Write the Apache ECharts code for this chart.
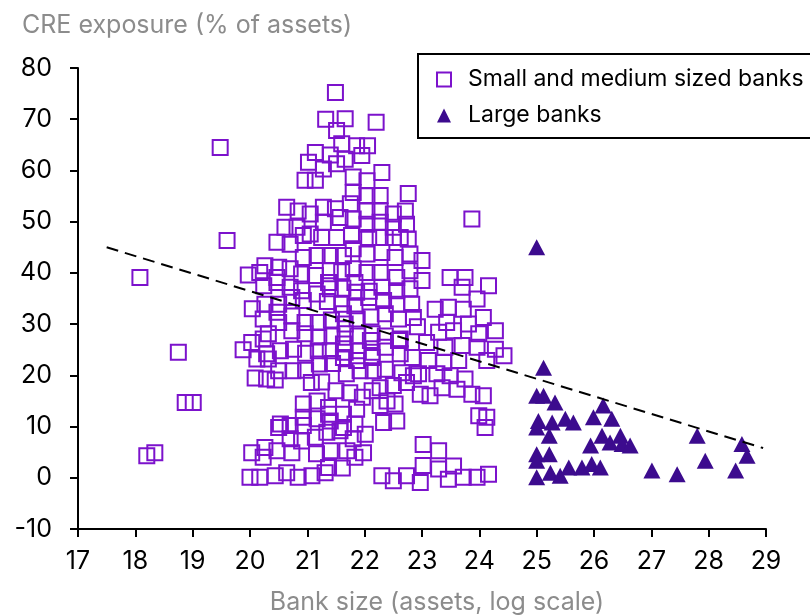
<!DOCTYPE html>
<html>
<head>
<meta charset="utf-8">
<script src="https://cdn.jsdelivr.net/npm/echarts@6/dist/echarts.min.js"></script>
<style>
  html, body { margin: 0; padding: 0; background: #fff; }
  #chart { width: 810px; height: 616px; }
</style>
</head>
<body>
<div id="chart"></div>
<script>
// [bank size (log assets), CRE exposure %]
const smallOutliers = [
  [18.08, 39.1], [18.2, 4.3], [18.34, 4.9], [18.75, 24.5], [18.87, 14.7], [19.01, 14.7],
  [19.48, 64.5], [19.6, 46.3], [23.87, 50.5]
];
const smallHigh = [
  [21.49, 75.2], [21.32, 70.0], [21.66, 70.1], [22.2, 69.4], [21.51, 67.8], [21.6, 65.2],
  [21.86, 64.8], [22.05, 64.8], [21.95, 62.9], [21.14, 63.5], [21.4, 63.0], [21.66, 62.2],
  [21.02, 61.6], [21.28, 60.3], [21.51, 61.3], [20.96, 58.1], [21.14, 58.1], [21.8, 58.7],
  [22.04, 58.0], [22.3, 59.6], [21.8, 55.7], [22.04, 55.1], [22.27, 55.1], [22.76, 55.5],
  [20.64, 52.8], [20.84, 52.1], [21.05, 51.5], [21.28, 52.8], [21.49, 52.5], [21.75, 53.5],
  [22.04, 52.1], [22.27, 52.1], [22.5, 51.5], [22.71, 52.1],
  [20.61, 48.9], [20.82, 48.9], [21.05, 47.6], [21.28, 49.9], [21.57, 50.8], [21.8, 50.5],
  [22.04, 49.5], [22.27, 49.9], [22.5, 48.9], [22.73, 49.5],
  [20.47, 46.0], [20.7, 45.6], [20.93, 47.3], [21.25, 46.9], [21.51, 46.9], [21.77, 47.3],
  [22.07, 46.9], [22.27, 46.9], [22.5, 46.9], [22.62, 46.9], [22.76, 46.6],
  [20.26, 41.4], [20.5, 41.1], [20.7, 40.8], [20.93, 43.0], [21.17, 43.4], [21.4, 43.4],
  [21.63, 43.4], [21.8, 44.7], [22.04, 43.7], [22.3, 44.0], [22.53, 43.0], [22.79, 43.7],
  [23.0, 42.4]
];
const smallMid = [
  [19.97, 39.6], [20.17, 40.1], [20.47, 39.1], [20.9, 39.8], [21.14, 39.5], [21.4, 40.4],
  [21.6, 40.2], [21.8, 40.8], [22.04, 40.1], [22.27, 40.1], [22.56, 39.1], [22.79, 40.4],
  [23.0, 38.5], [23.49, 39.1], [23.75, 39.1], [24.16, 37.5], [23.7, 37.2],
  [20.24, 37.5], [20.47, 38.1], [20.7, 37.2], [20.9, 36.5], [21.17, 35.9], [21.37, 38.1],
  [21.4, 36.9], [21.62, 37.0], [21.86, 36.2], [21.83, 38.1], [22.08, 36.4], [22.3, 37.2],
  [22.56, 36.5], [22.79, 36.9], [23.96, 34.9],
  [20.04, 33.0], [20.26, 33.9], [20.5, 33.9], [20.73, 35.2], [20.93, 34.6], [21.35, 34.4],
  [21.6, 33.9], [21.83, 33.6], [22.07, 35.2], [22.33, 34.6], [22.56, 33.9], [22.82, 33.9],
  [23.23, 32.9], [23.46, 33.3], [23.72, 32.9],
  [20.23, 31.0], [20.5, 30.3], [20.47, 32.3], [20.73, 31.6], [20.96, 30.3], [21.19, 30.3],
  [21.42, 30.8], [21.63, 32.0], [21.66, 30.0], [21.87, 31.0], [22.11, 31.4], [22.36, 32.0],
  [22.59, 31.0], [22.85, 31.3], [24.07, 31.3], [23.43, 30.3], [23.81, 30.0],
  [20.32, 28.1], [20.73, 28.7], [20.96, 28.1], [21.2, 27.5], [21.43, 27.7], [21.66, 28.1],
  [21.88, 27.7], [22.13, 28.1], [22.36, 27.7], [22.62, 27.1], [22.92, 29.5], [23.29, 28.4],
  [23.55, 28.7], [23.99, 28.1], [24.28, 28.7], [20.03, 26.4], [20.23, 27.1],
  [19.88, 25.0], [20.29, 24.2], [20.53, 24.8], [20.76, 25.1], [20.97, 24.3], [21.19, 24.8],
  [21.4, 24.8], [21.63, 26.1], [21.66, 24.5], [21.89, 24.8], [22.1, 26.8], [22.13, 24.5],
  [22.36, 25.5], [22.59, 26.8], [22.62, 24.2], [23.08, 26.4], [23.4, 25.5], [23.7, 25.8],
  [23.96, 25.5], [24.28, 25.1], [24.43, 23.8],
  [20.12, 23.2], [20.32, 23.2], [20.5, 20.9], [20.75, 20.9], [20.97, 21.0], [21.21, 22.2],
  [21.44, 22.3], [21.63, 23.5], [21.86, 22.9], [22.13, 23.5], [22.83, 23.5], [23.11, 22.9],
  [23.38, 22.5], [23.64, 22.9], [24.13, 22.9], [21.68, 20.3], [21.92, 20.9], [22.15, 20.9],
  [22.36, 21.2], [22.65, 20.5], [22.94, 20.3], [22.85, 19.9], [23.26, 20.3], [23.49, 19.9],
  [23.75, 19.3],
  [20.09, 19.5], [20.29, 19.3], [20.44, 19.1], [21.07, 18.6], [21.25, 18.7], [21.5, 17.0],
  [21.74, 16.6], [21.96, 15.7], [22.13, 17.0], [22.27, 17.6], [22.5, 18.0], [22.73, 18.6],
  [22.97, 16.3], [23.14, 16.0], [23.35, 17.6], [23.61, 17.3], [23.87, 16.3], [24.07, 16.0]
];
const smallLow = [
  [20.93, 14.4], [21.17, 15.0], [21.37, 13.7], [21.37, 12.4], [21.63, 12.4], [21.86, 13.4],
  [22.27, 14.1], [22.39, 15.0], [22.53, 14.4], [23.99, 12.1], [24.13, 11.8], [24.1, 9.8],
  [20.5, 9.8], [20.53, 10.5], [20.7, 10.2], [20.93, 10.2], [20.93, 11.8], [21.17, 11.5],
  [21.4, 11.1], [21.63, 9.8], [21.83, 10.5], [22.01, 8.5], [22.33, 10.8], [22.56, 11.1],
  [21.34, 8.9], [21.57, 9.2], [21.8, 7.6],
  [20.7, 7.6], [20.9, 7.2], [21.14, 7.9], [20.26, 5.9], [20.03, 4.9], [20.23, 4.0],
  [20.47, 5.3], [20.73, 4.9], [21.16, 4.7], [21.4, 5.3], [21.69, 5.3], [21.83, 4.0],
  [21.98, 4.9], [23.02, 6.5], [23.29, 5.3],
  [20.0, 0.1], [20.17, 0.1], [20.44, 0.4], [20.64, 1.0], [20.84, 0.1], [21.08, 0.4],
  [21.31, 1.0], [21.37, 2.0], [21.61, 1.9], [22.3, 0.4], [22.5, -0.6], [22.73, 0.4],
  [22.97, -0.9], [23.02, 2.4], [23.29, 1.7], [23.55, 2.3], [23.46, -0.3], [23.72, 0.1],
  [23.96, 0.1], [24.16, 0.7]
];
const largeBanks = [
  [25.0, 45.0], [25.12, 21.5], [25.0, 16.0], [25.12, 16.0], [25.32, 14.7], [25.03, 11.1],
  [25.0, 9.8], [25.27, 10.8], [25.5, 11.5], [25.64, 10.8], [25.22, 8.2], [25.0, 4.6],
  [25.22, 4.6], [25.0, 3.3], [25.0, 0.1], [25.24, 1.0], [25.41, 0.4], [25.56, 2.0],
  [25.79, 2.0], [25.96, 2.7], [26.11, 2.0], [25.94, 6.3], [25.99, 11.8], [26.16, 14.1],
  [26.31, 11.5], [26.14, 8.2], [26.28, 6.9], [26.46, 8.2], [26.49, 6.6], [26.63, 6.3],
  [27.01, 1.4], [27.45, 0.7], [27.8, 8.2], [27.94, 3.3], [28.47, 1.4], [28.58, 6.6],
  [28.67, 4.3]
];
const trendLine = [[17.5, 45.0], [28.95, 5.8]];
const xRange = [17, 29];
const yRange = [-10, 80];

const smallBanks = [].concat(smallOutliers, smallHigh, smallMid, smallLow);
const font = 'Inter';
const purple = '#7C12CC';
const indigo = '#3C0B8E';

const chart = echarts.init(document.getElementById('chart'), null, { renderer: 'canvas' });
chart.setOption({
  animation: false,
  backgroundColor: '#fff',
  title: {
    text: 'CRE exposure (% of assets)',
    left: 17,
    top: 8,
    textStyle: { fontSize: 25, fontWeight: 'normal', color: '#8c8c8c', fontFamily: font }
  },
  legend: {
    data: ['Small and medium sized banks', 'Large banks'],
    orient: 'vertical',
    left: 418,
    top: 54,
    padding: [14, 14, 11, 18],
    itemGap: 13,
    itemWidth: 14,
    itemHeight: 14,
    borderColor: '#000',
    borderWidth: 2,
    borderRadius: 0,
    backgroundColor: '#fff',
    textStyle: { fontSize: 23, color: '#000', fontFamily: font, padding: [0, 0, 0, 12] }
  },
  grid: { left: 78, right: 44, top: 68, bottom: 87, containLabel: false, outerBoundsMode: 'none' },
  xAxis: {
    type: 'value',
    min: xRange[0],
    max: xRange[1],
    interval: 1,
    name: 'Bank size (assets, log scale)',
    nameLocation: 'middle',
    nameGap: 61,
    nameTextStyle: { color: '#8c8c8c', fontSize: 25, fontFamily: font, padding: [0, 0, 0, 30] },
    axisLine: { onZero: false, lineStyle: { color: '#000', width: 2 } },
    axisTick: { show: true, length: 8, lineStyle: { color: '#000', width: 2 } },
    axisLabel: { color: '#000', fontSize: 25, fontFamily: font, margin: 20 },
    splitLine: { show: false }
  },
  yAxis: {
    type: 'value',
    min: yRange[0],
    max: yRange[1],
    interval: 10,
    axisLine: { show: true, onZero: false, lineStyle: { color: '#000', width: 2 } },
    axisTick: { show: true, length: 8, lineStyle: { color: '#000', width: 2 } },
    axisLabel: { color: '#000', fontSize: 25, fontFamily: font, margin: 26 },
    splitLine: { show: false }
  },
  series: [
    {
      name: 'Small and medium sized banks',
      type: 'scatter',
      symbol: 'rect',
      symbolSize: 15,
      data: smallBanks,
      itemStyle: { color: 'rgba(255,255,255,0)', borderColor: purple, borderWidth: 2, opacity: 1 },
      z: 2
    },
    {
      name: 'Large banks',
      type: 'scatter',
      symbol: 'triangle',
      symbolSize: [17, 16],
      data: largeBanks,
      itemStyle: { color: indigo, opacity: 1 },
      z: 3
    },
    {
      name: 'trend',
      type: 'line',
      data: trendLine,
      symbol: 'none',
      lineStyle: { color: '#000', width: 2, type: [12, 7] },
      z: 4
    }
  ]
});
</script>
</body>
</html>
